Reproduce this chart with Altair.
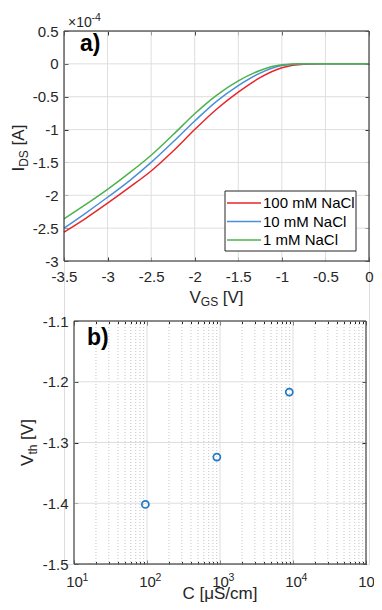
import altair as alt
import pandas as pd

# ---------------- data ----------------
vgs = [-3.5, -3.25, -3.0, -2.75, -2.5, -2.25, -2.0, -1.75, -1.5, -1.25, -1.0, -0.75, -0.5, -0.25, 0.0]
ids_100mM = [-2.56, -2.35, -2.12, -1.88, -1.63, -1.33, -1.00, -0.69, -0.43, -0.21, -0.06, -0.005, 0, 0, 0]
ids_10mM = [-2.50, -2.27, -2.03, -1.78, -1.50, -1.19, -0.87, -0.57, -0.33, -0.14, -0.025, 0, 0, 0, 0]
ids_1mM = [-2.36, -2.14, -1.91, -1.66, -1.39, -1.08, -0.76, -0.48, -0.26, -0.10, -0.015, 0, 0, 0, 0]
series = ["100 mM NaCl", "10 mM NaCl", "1 mM NaCl"]
colors = ["#e8262b", "#4a90d9", "#4cb24c"]

conductivity = [95, 906, 8890]
vth = [-1.402, -1.324, -1.217]

xticks1 = [-3.5, -3, -2.5, -2, -1.5, -1, -0.5, 0]
yticks1 = [0.5, 0, -0.5, -1, -1.5, -2, -2.5, -3]
xticks2 = [10, 100, 1000, 10000, 100000]
xminor2 = [m * 10 ** k for k in range(1, 5) for m in range(2, 10)]
yticks2 = [-1.1, -1.2, -1.3, -1.4, -1.5]

# ---------------- layout / style ----------------
W1, H1 = 305, 230                   # panel a plot area
BX, BY, W2, H2 = 10, 290, 292, 243  # panel b plot area (offset inside the view)
WT, HT = W1, BY + H2
FONT = "Liberation Sans"
TXT = "#262626"
GRID = "#dedede"
MINOR = "#c4c4c4"
LBL = 15
TTL = 17
SUB = 12

rows = []
for name, vals in zip(series, [ids_100mM, ids_10mM, ids_1mM]):
    for v, i in zip(vgs, vals):
        rows.append({"vgs": v, "ids": i, "series": name})
df1 = pd.DataFrame(rows)
df2 = pd.DataFrame({"c": conductivity, "vth": vth})
ONE = alt.Data(values=[{"a": 1}])


def label_axis(values, orient, expr="datum.value + ''", pad=6, offset=0, **kw):
    return alt.Axis(values=values, orient=orient, title=None, labelExpr=expr, ticks=False,
                    tickSize=0, domain=False, grid=False, labelFont=FONT, labelFontSize=LBL,
                    labelColor=TXT, labelPadding=pad, labelFlush=False, labelOverlap=False,
                    offset=offset, **kw)


def tick_axis(values, orient, size, offset=0):
    return alt.Axis(values=values, orient=orient, title=None, labels=False, domain=False,
                    grid=False, ticks=True, tickSize=size, tickColor=TXT, tickWidth=1,
                    offset=offset - size)


def text(t, x, y, size=TTL, angle=0, align="left", weight="normal", color=TXT):
    return alt.Chart(ONE).mark_text(
        text=t, font=FONT, fontSize=size, angle=angle, align=align, baseline="alphabetic",
        fontWeight=weight, color=color).encode(x=alt.value(x), y=alt.value(y))


def frame(x0, y0, x1, y1):
    return alt.Chart(ONE).mark_rect(fillOpacity=0, stroke=TXT, strokeWidth=1).encode(
        x=alt.value(x0), x2=alt.value(x1), y=alt.value(y0), y2=alt.value(y1))


# ---------------- panel a ----------------
xs1 = alt.Scale(domain=[-3.5, 0], range=[0, W1], nice=False, zero=False)
ys1 = alt.Scale(domain=[-3, 0.5], range=[H1, 0], nice=False, zero=False)
OFF_A = -(HT - H1)   # move bottom axes of panel a up to its own plot bottom

grid_a = [
    alt.Chart(pd.DataFrame({"v": xticks1})).mark_rule(color=GRID, strokeWidth=1).encode(
        x=alt.X("v:Q", scale=xs1, axis=None), y=alt.value(0), y2=alt.value(H1)),
    alt.Chart(pd.DataFrame({"v": yticks1})).mark_rule(color=GRID, strokeWidth=1).encode(
        y=alt.Y("v:Q", scale=ys1, axis=None), x=alt.value(0), x2=alt.value(W1)),
]
lines = alt.Chart(df1).mark_line(strokeWidth=1.5, interpolate="monotone").encode(
    x=alt.X("vgs:Q", scale=xs1, axis=label_axis(xticks1, "bottom", pad=8, offset=OFF_A)),
    y=alt.Y("ids:Q", scale=ys1, axis=label_axis(yticks1, "left")),
    color=alt.Color("series:N", scale=alt.Scale(domain=series, range=colors), legend=None),
)
ticks_a = [
    alt.Chart(df1).mark_point(opacity=0).encode(
        x=alt.X("vgs:Q", scale=xs1, axis=tick_axis(xticks1, "bottom", 4, OFF_A)),
        y=alt.Y("ids:Q", scale=ys1, axis=tick_axis(yticks1, "left", 4))),
    alt.Chart(df1).mark_point(opacity=0).encode(
        x=alt.X("vgs:Q", scale=xs1, axis=tick_axis(xticks1, "top", 4)),
        y=alt.Y("ids:Q", scale=ys1, axis=tick_axis(yticks1, "right", 4))),
]

# legend (box inside plot a)
LX0, LX1 = W1 - 144, W1 - 13
leg = [alt.Chart(ONE).mark_rect(fill="white", stroke=TXT, strokeWidth=1).encode(
    x=alt.value(LX0), x2=alt.value(LX1), y=alt.value(160), y2=alt.value(220))]
for k, (name, col) in enumerate(zip(series, colors)):
    yy = 172 + 18.5 * k
    leg.append(alt.Chart(ONE).mark_rule(color=col, strokeWidth=1.5).encode(
        x=alt.value(LX0 + 2), x2=alt.value(LX0 + 36), y=alt.value(yy)))
    leg.append(alt.Chart(ONE).mark_text(
        text=name, font=FONT, fontSize=15, align="left", baseline="middle", color="#000").encode(
        x=alt.value(LX0 + 38), y=alt.value(yy)))

XC1 = W1 / 2 - 27
texts_a = [
    text("a)", 16, 20, size=23, weight="bold", color="#000"),
    text("\u00d710", 4, -4, size=14),
    text("-4", 27.5, -10, size=10.5),
    # y title  I_DS [A]
    text("I", -40, 140.5, angle=270),
    text("DS", -36.5, 135.8, size=SUB, angle=270),
    text("[A]", -40, 114.4, angle=270),
    # x title  V_GS [V]
    text("V", XC1, H1 + 41.7),
    text("GS", XC1 + 11.3, H1 + 45.2, size=SUB),
    text("[V]", XC1 + 33.3, H1 + 41.7),
]

# ---------------- panel b ----------------
xs2 = alt.Scale(type="log", domain=[10, 100000], range=[BX, BX + W2], nice=False)
ys2 = alt.Scale(domain=[-1.5, -1.1], range=[BY + H2, BY], nice=False, zero=False)

grid_b = [
    alt.Chart(pd.DataFrame({"v": xminor2})).mark_rule(color=MINOR, strokeWidth=1, strokeDash=[1, 2]).encode(
        x=alt.X("v:Q", scale=xs2, axis=None), y=alt.value(BY), y2=alt.value(BY + H2)),
    alt.Chart(pd.DataFrame({"v": xticks2})).mark_rule(color=GRID, strokeWidth=1).encode(
        x=alt.X("v:Q", scale=xs2, axis=None), y=alt.value(BY), y2=alt.value(BY + H2)),
    alt.Chart(pd.DataFrame({"v": yticks2})).mark_rule(color=GRID, strokeWidth=1).encode(
        y=alt.Y("v:Q", scale=ys2, axis=None), x=alt.value(BX), x2=alt.value(BX + W2)),
]
points = alt.Chart(df2).mark_point(shape="circle", filled=False, size=50, strokeWidth=1.7,
                                   color="#1f78c8", opacity=1).encode(
    x=alt.X("c:Q", scale=xs2, axis=label_axis(xticks2, "bottom", expr="'10'", pad=10)),
    y=alt.Y("vth:Q", scale=ys2, axis=label_axis(yticks2, "left", offset=-BX)),
)
# exponents of the log-axis labels (superscripts), shifted right/down by translate
exps = alt.Chart(df2).mark_point(opacity=0).encode(
    x=alt.X("c:Q", scale=xs2, axis=alt.Axis(values=xticks2, orient="bottom", title=None,
                                             labelExpr="round(log(datum.value)/LN10) + ''",
                                             ticks=False, tickSize=0, domain=False, grid=False,
                                             labelFont=FONT, labelFontSize=10.5, labelColor=TXT,
                                             labelAlign="left", translate=8.5,
                                             labelPadding=0, labelFlush=False,
                                             labelOverlap=False)),
    y=alt.Y("vth:Q", scale=ys2, axis=None),
)
ticks_b = [
    alt.Chart(df2).mark_point(opacity=0).encode(
        x=alt.X("c:Q", scale=xs2, axis=tick_axis(xticks2, "bottom", 4)),
        y=alt.Y("vth:Q", scale=ys2, axis=tick_axis(yticks2, "left", 4, -BX))),
    alt.Chart(df2).mark_point(opacity=0).encode(
        x=alt.X("c:Q", scale=xs2, axis=tick_axis(xticks2, "top", 4, -BY)),
        y=alt.Y("vth:Q", scale=ys2, axis=tick_axis(yticks2, "right", 4, -(WT - BX - W2)))),
    alt.Chart(df2).mark_point(opacity=0).encode(
        x=alt.X("c:Q", scale=xs2, axis=tick_axis(xminor2, "bottom", 2.5)),
        y=alt.Y("vth:Q", scale=ys2, axis=None)),
    alt.Chart(df2).mark_point(opacity=0).encode(
        x=alt.X("c:Q", scale=xs2, axis=tick_axis(xminor2, "top", 2.5, -BY)),
        y=alt.Y("vth:Q", scale=ys2, axis=None)),
]

texts_b = [
    text("b)", BX + 13, BY + 24, size=23, weight="bold", color="#000"),
    # y title  V_th [V]
    text("V", BX - 41, BY + 144.9, angle=270),
    text("th", BX - 37.5, BY + 133.6, size=SUB, angle=270),
    text("[V]", BX - 41, BY + 118.9, angle=270),
    text("C [\u03bcS/cm]", BX + W2 / 2, BY + H2 + 35, align="center"),
]

frames = [frame(0, 0, W1, H1), frame(BX, BY, BX + W2, BY + H2)]

chart = alt.layer(
    *grid_a, *grid_b, lines, points, exps, *ticks_a, *ticks_b, *frames, *leg, *texts_a, *texts_b
).resolve_scale(x="independent", y="independent").resolve_axis(
    x="independent", y="independent"
).properties(
    width=WT, height=HT,
    autosize=alt.AutoSizeParams(type="none"),
    padding={"left": 56, "top": 23, "right": 5, "bottom": 38},
).configure_view(strokeOpacity=0).configure(background="white")

chart.save("out.html", embed_options={"renderer": "svg", "actions": False})
